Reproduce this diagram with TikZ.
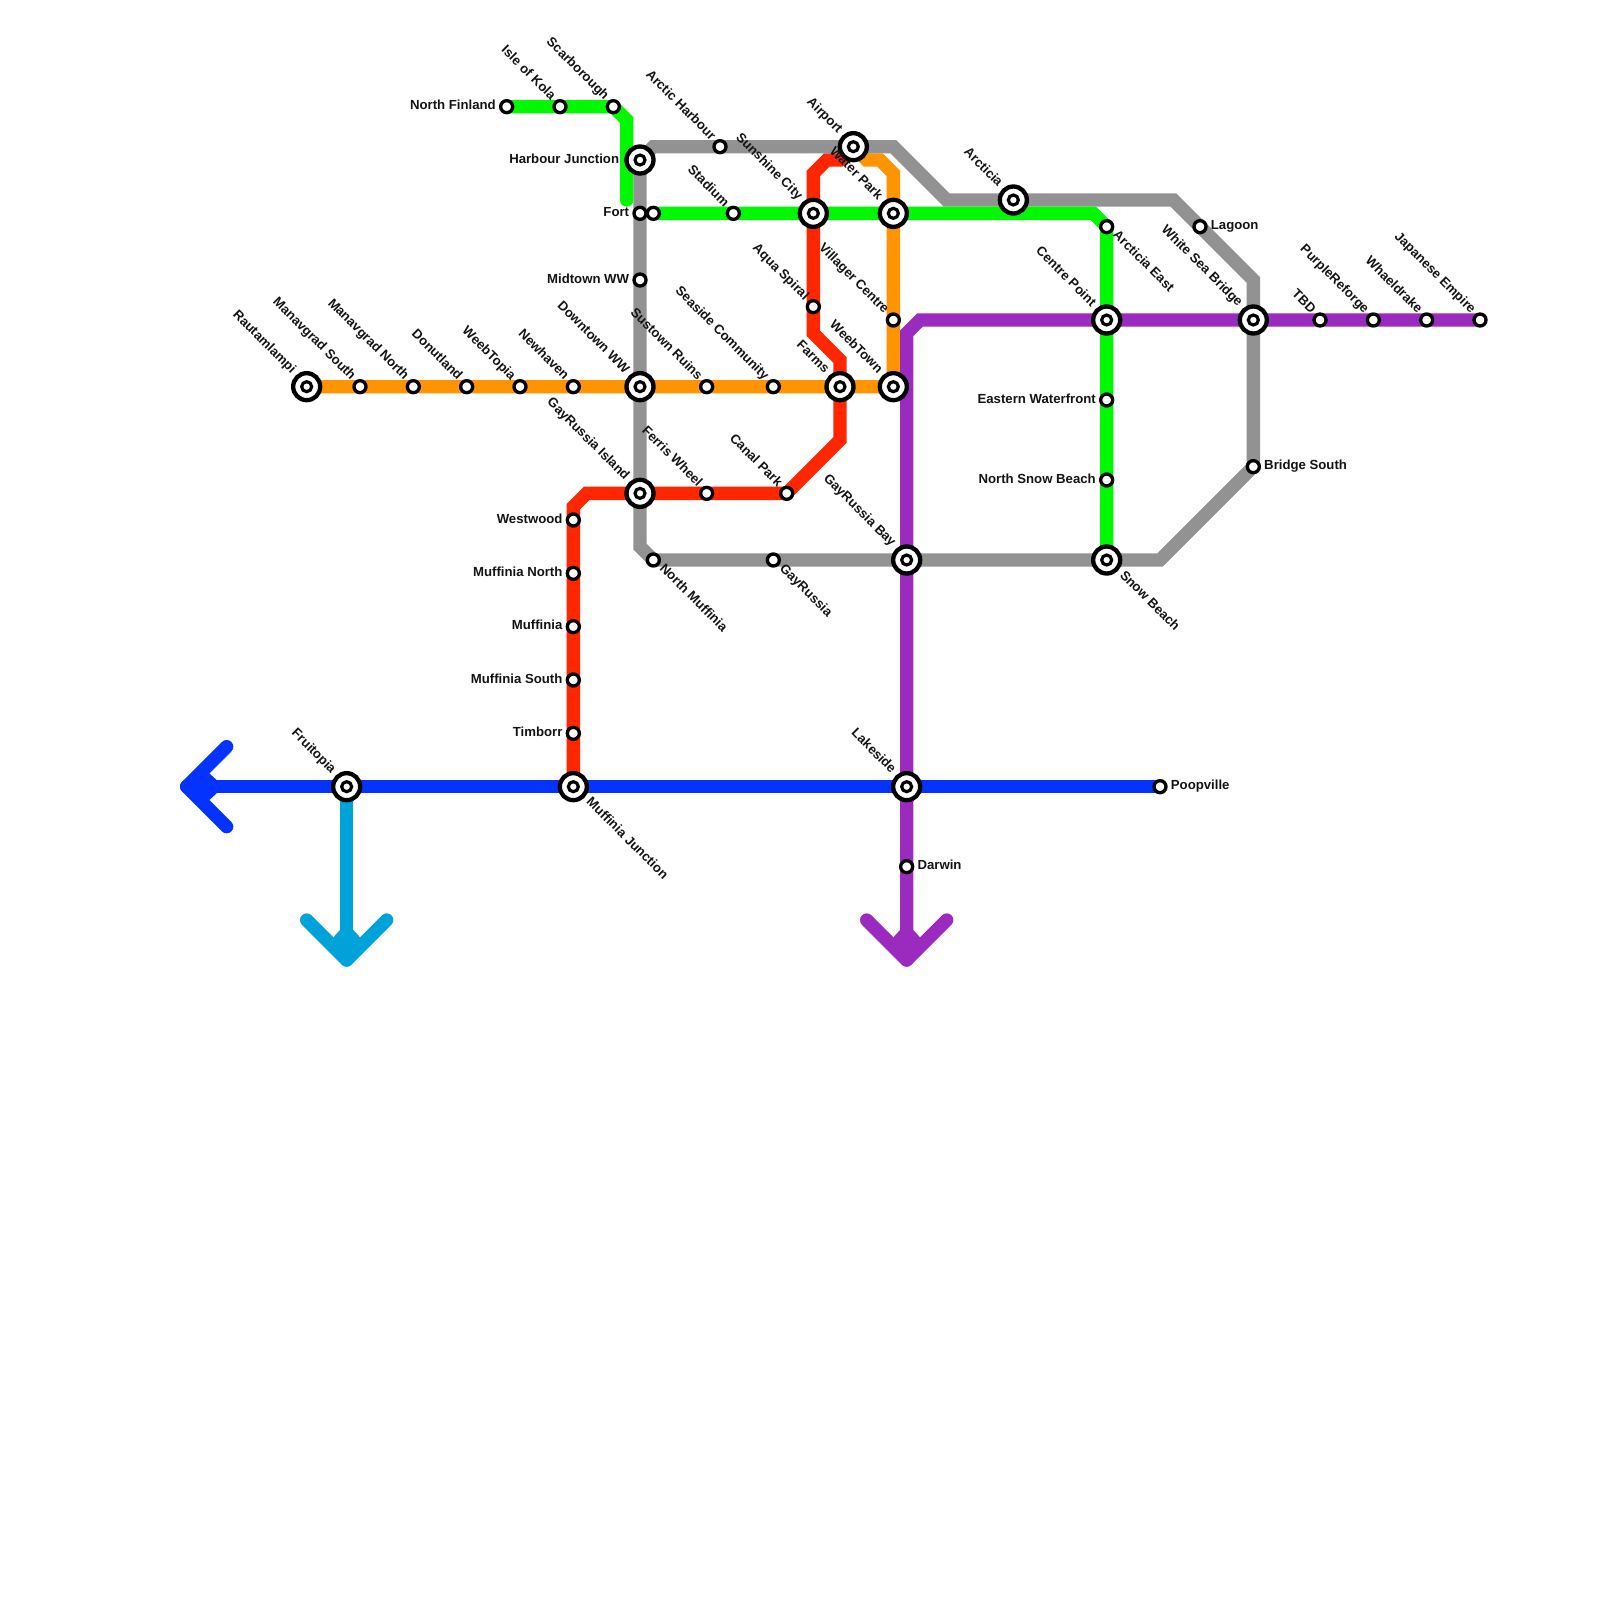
\documentclass[tikz,border=0pt]{standalone}
\usepackage{fontspec}
\setmainfont{Liberation Sans}
\usetikzlibrary{calc}
\definecolor{lgrey}{HTML}{929292}
\definecolor{lgreen}{HTML}{00F900}
\definecolor{lorange}{HTML}{FF9300}
\definecolor{lred}{HTML}{FF2600}
\definecolor{lpurple}{HTML}{9A2BBE}
\definecolor{lblue}{HTML}{0433FF}
\definecolor{lsky}{HTML}{00A3D9}
\tikzset{
  metro/.style={line width=0.4cm,line cap=round,line join=miter,miter limit=10},
  tiparm/.style={line width=0.4cm,line cap=round,line join=round},
  smallstn/.style={circle,draw=black,fill=white,line width=0.1cm,minimum size=0.36cm,inner sep=0pt},
  bigstn/.style={circle,draw=black,fill=white,line width=0.13cm,minimum size=0.81cm,inner sep=0pt},
  hole/.style={circle,draw=black,fill=white,line width=0.095cm,minimum size=0.30cm,inner sep=0pt},
  lab/.style={font=\fontsize{11.25}{13}\selectfont\bfseries,inner sep=0pt,text=black!92},
  nws/.style={lab,rotate=-45,anchor=mid east,xshift=-0.32cm,yshift=0.02cm},
  nwi/.style={lab,rotate=-45,anchor=mid east,xshift=-0.60cm,yshift=0.03cm},
  ses/.style={lab,rotate=-45,anchor=mid west,xshift=0.31cm,yshift=0.02cm},
  sei/.style={lab,rotate=-45,anchor=mid west,xshift=0.60cm,yshift=0.02cm},
  lfs/.style={lab,anchor=mid east,xshift=-0.32cm,yshift=0cm},
  lfi/.style={lab,anchor=mid east,xshift=-0.62cm,yshift=0cm},
  rts/.style={lab,anchor=mid west,xshift=0.32cm,yshift=0cm},
}
\newcommand{\placeS}[1]{\node[smallstn] (st#1) at (#1) {};}
\newcommand{\placeB}[1]{\node[bigstn] (st#1) at (#1) {};\node[hole] (ho#1) at (#1) {};}
\newcommand{\tag}[3]{\node[#2] (tx#1) at (#1) {#3};}
\begin{document}
\begin{tikzpicture}[x=0.4cm,y=-0.4cm]
\useasboundingbox (0,0) rectangle (120,120);
\fill[white] (0,0) rectangle (120,120);
% station positions
\foreach \n/\x/\y in {
 nfinland/38/8,kola/42/8,scar/46/8,harbour/48/12,fort/48/16,forte/49/16,stadium/55/16,sunshine/61/16,water/67/16,
 arctich/54/11,airport/64/11,midtown/48/21,aqua/61/23,villager/67/24,
 rauta/23/29,manS/27/29,manN/31/29,donut/35/29,weebt/39/29,newh/43/29,downt/48/29,sust/53/29,seaside/58/29,farms/63/29,weebtown/67/29,
 grisland/48/37,ferris/53/37,canal/59/37,nmuff/49/42,gayr/58/42,grbay/68/42,snow/83/42,
 westw/43/39,muffN/43/43,muff/43/47,muffS/43/51,timb/43/55,muffJ/43/59,fruit/26/59,lakes/68/59,poop/87/59,darwin/68/65,
 arcticia/76/15,arcE/83/17,centre/83/24,eastW/83/30,northS/83/36,lagoon/90/17,white/94/24,bridgeS/94/35,
 tbd/99/24,purple/103/24,whael/107/24,japan/111/24,
 ga/49/11,gb/67/11,gc/71/15,gd/88/15,ge/94/21,gf/87/42,gg/48/41,
 ka/47/9,kb/47/15,kc/82/16,
 ra/43/38,rb/44/37,rc/63/33,rd/63/27,re/61/25,rf/61/13,rg/62/12,rh/63/12,
 oa/67/13,ob/66/12,oc/65/12,
 pa/69/24,pb/68/25,ptip/68/72,parmL/65/69,parmR/71/69,
 btip/14/59,barmU/17/56,barmD/17/62,
 stip/26/72,sarmL/23/69,sarmR/29/69}
 {\coordinate (\n) at (\x,\y);}
% lines
\draw[metro,lsky] (fruit) -- (stip);
\draw[tiparm,lsky] (sarmL) -- (stip) -- (sarmR);
\begin{scope}[shift={(stip)}]
\fill[lsky] (-.5,-2.25) -- (-1,-1.7) -- (0,0) -- (1,-1.7) -- (.5,-2.25) -- cycle;
\end{scope}
\draw[metro,lorange] (rauta) -- (weebtown) -- (oa) -- (ob) -- (oc) -- (airport);
\draw[metro,lred] (muffJ) -- (ra) -- (rb) -- (canal) -- (rc) -- (rd) -- (re) -- (rf) -- (rg) -- (rh) -- (airport);
\draw[metro,lgreen] (nfinland) -- (scar) -- (ka) -- (kb);
\draw[metro,lgrey] (harbour) -- (ga) -- (gb) -- (gc) -- (gd) -- (ge) -- (bridgeS) -- (gf) -- (nmuff) -- (gg) -- (harbour);
\draw[metro,lgreen] (forte) -- (kc) -- (arcE) -- (snow);
\draw[metro,lblue] (btip) -- (poop);
\draw[tiparm,lblue] (barmU) -- (btip) -- (barmD);
\begin{scope}[shift={(btip)}]
\fill[lblue] (2.25,-.5) -- (1.7,-1) -- (0,0) -- (1.7,1) -- (2.25,.5) -- cycle;
\end{scope}
\draw[metro,lpurple] (japan) -- (pa) -- (pb) -- (ptip);
\draw[tiparm,lpurple] (parmL) -- (ptip) -- (parmR);
\begin{scope}[shift={(ptip)}]
\fill[lpurple] (-.5,-2.25) -- (-1,-1.7) -- (0,0) -- (1,-1.7) -- (.5,-2.25) -- cycle;
\end{scope}
% stations
\foreach \n in {nfinland,kola,scar,fort,forte,stadium,arctich,midtown,aqua,villager,manS,manN,donut,weebt,newh,sust,seaside,ferris,canal,nmuff,gayr,westw,muffN,muff,muffS,timb,poop,darwin,arcE,eastW,northS,lagoon,bridgeS,tbd,purple,whael,japan}
 {\placeS{\n}}
\foreach \n in {harbour,sunshine,water,airport,rauta,downt,farms,weebtown,grisland,grbay,snow,muffJ,fruit,lakes,arcticia,centre,white}
 {\placeB{\n}}
% labels
\tag{nfinland}{lfs}{North Finland}
\tag{kola}{nws}{Isle of Kola}
\tag{scar}{nws}{Scarborough}
\tag{harbour}{lfi}{Harbour Junction}
\tag{fort}{lfs}{Fort}
\tag{stadium}{nws}{Stadium}
\tag{sunshine}{nwi}{Sunshine City}
\tag{water}{nwi}{Water Park}
\tag{arctich}{nws}{Arctic Harbour}
\tag{airport}{nwi}{Airport}
\tag{midtown}{lfs}{Midtown WW}
\tag{aqua}{nws}{Aqua Spiral}
\tag{villager}{nws}{Villager Centre}
\tag{rauta}{nwi}{Rautamlampi}
\tag{manS}{nws}{Manavgrad South}
\tag{manN}{nws}{Manavgrad North}
\tag{donut}{nws}{Donutland}
\tag{weebt}{nws}{WeebTopia}
\tag{newh}{nws}{Newhaven}
\tag{downt}{nwi}{Downtown WW}
\tag{sust}{nws}{Sustown Ruins}
\tag{seaside}{nws}{Seaside Community}
\tag{farms}{nwi}{Farms}
\tag{weebtown}{nwi}{WeebTown}
\tag{grisland}{nwi}{GayRussia Island}
\tag{ferris}{nws}{Ferris Wheel}
\tag{canal}{nws}{Canal Park}
\tag{nmuff}{ses}{North Muffinia}
\tag{gayr}{ses}{GayRussia}
\tag{grbay}{nwi}{GayRussia Bay}
\tag{snow}{sei}{Snow Beach}
\tag{westw}{lfs}{Westwood}
\tag{muffN}{lfs}{Muffinia North}
\tag{muff}{lfs}{Muffinia}
\tag{muffS}{lfs}{Muffinia South}
\tag{timb}{lfs}{Timborr}
\tag{muffJ}{sei}{Muffinia Junction}
\tag{fruit}{nwi}{Fruitopia}
\tag{lakes}{nwi}{Lakeside}
\tag{poop}{rts}{Poopville}
\tag{darwin}{rts}{Darwin}
\tag{arcticia}{nwi}{Arcticia}
\tag{arcE}{ses}{Arcticia East}
\tag{centre}{nwi}{Centre Point}
\tag{eastW}{lfs}{Eastern Waterfront}
\tag{northS}{lfs}{North Snow Beach}
\tag{lagoon}{rts}{Lagoon}
\tag{white}{nwi}{White Sea Bridge}
\tag{bridgeS}{rts}{Bridge South}
\tag{tbd}{nws}{TBD}
\tag{purple}{nws}{PurpleReforge}
\tag{whael}{nws}{Whaeldrake}
\tag{japan}{nws}{Japanese Empire}
\end{tikzpicture}
\end{document}
